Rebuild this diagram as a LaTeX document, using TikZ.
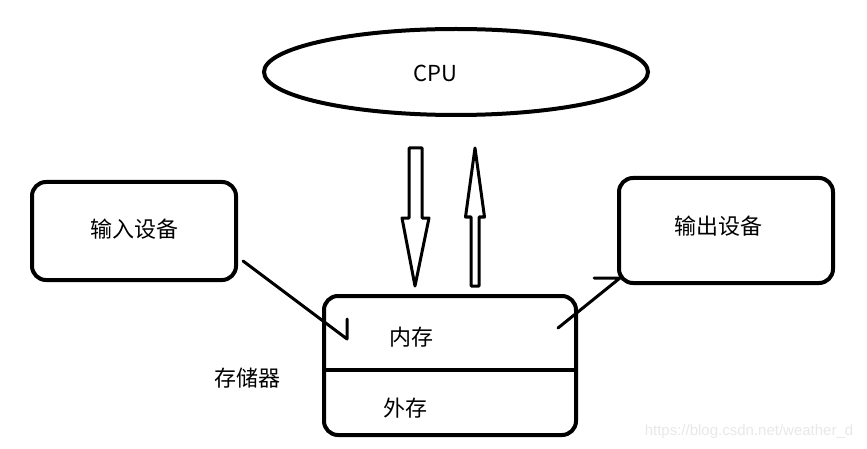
\documentclass[tikz,border=0pt]{standalone}
\usepackage{fontspec}
\setmainfont{Noto Sans CJK SC}
\newfontfamily\markfont{Liberation Sans}
\usetikzlibrary{shapes.geometric,calc}

\begin{document}
\begin{tikzpicture}
    [x=1pt, y=-1pt,
    every node/.style ={font=\fontsize{22}{26}\selectfont},
    box/.style={draw, line width=4pt, rounded corners=14pt},
    hollow/.style={draw, line width=3pt, line join=round, fill=white},
    wire/.style={draw, line width=3pt, line cap=round, line join=round}
    ]
    \useasboundingbox (0,0) rectangle (867,449);

    % CPU
    \node (cpu) [ellipse, draw, line width=4pt, minimum width=384pt, minimum height=86pt] at (456,72) {};
    \node (cpulabel) at (435,73) {CPU};

    % devices
    \node (input) [box, minimum width=204pt, minimum height=98pt] at (134,231) {};
    \node (inlabel) at (134,229) {输入设备};
    \node (output) [box, minimum width=214pt, minimum height=105pt] at (726,230.5) {};
    \node (outlabel) at (718,226) {输出设备};

    % memory
    \node (memory) [box, minimum width=252pt, minimum height=139pt] at (450,365.5) {};
    \draw [line width=4pt] (memory.west |- 0,370) -- (memory.east |- 0,370);
    \node (inner) at (411,337) {内存};
    \node (outer) at (405,408) {外存};
    \node (storage) at (247,378) {存储器};

    % data paths between CPU and memory
    \coordinate (dtip) at (415,286);
    \coordinate (utip) at (475,148);
    \draw [hollow] (dtip) -- ++(-13,-68) -- ++(7,0) -- ++(0,-70) -- ++(13,0) -- ++(0,70) -- ++(7,0) -- cycle;
    \draw [hollow] (utip) -- ++(-9.5,69) -- ++(5.5,0) -- ++(0,69) -- ++(8,0) -- ++(0,-69) -- ++(5.5,0) -- cycle;

    % input -> memory, memory -> output
    \coordinate (instart) at (243,261);
    \coordinate (inend) at (347,339);
    \coordinate (outstart) at (558,328);
    \coordinate (outend) at (620,278);
    \draw [wire] (instart) -- (inend) -- ++(0,-20);
    \draw [wire] (outstart) -- (outend) -- ++(-26,0);

    \node (mark) [font=\markfont\fontsize{15}{18}\selectfont, text=gray!18] at (749,432) {https://blog.csdn.net/weather\_d};
\end{tikzpicture}
\end{document}
